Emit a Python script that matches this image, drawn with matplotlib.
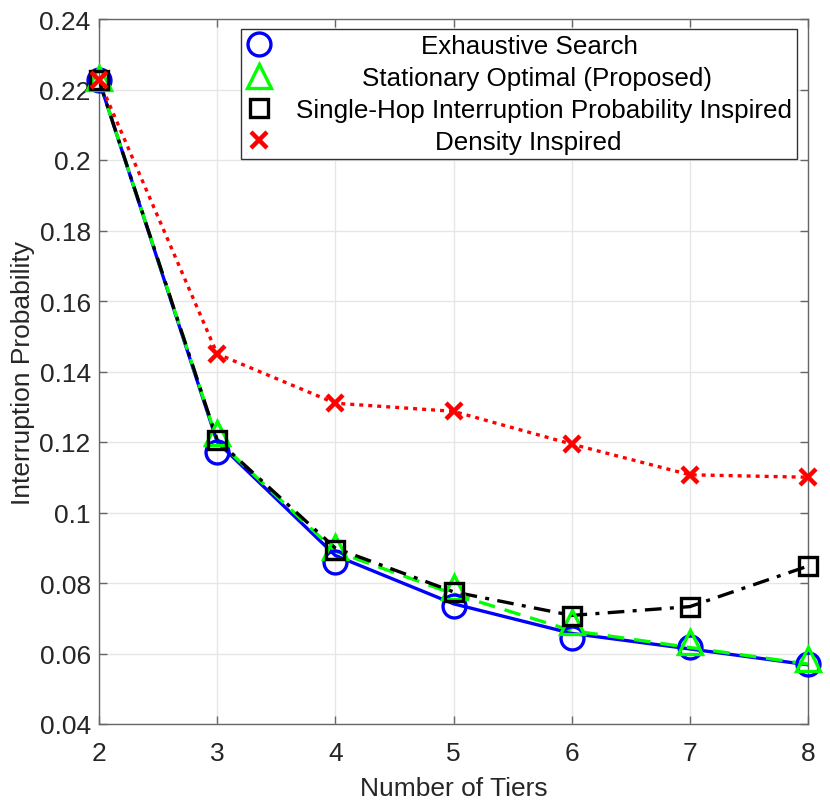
import matplotlib
matplotlib.use("Agg")
import matplotlib.pyplot as plt
from matplotlib.ticker import FuncFormatter

plt.rcParams['font.family'] = ['Liberation Sans', 'DejaVu Sans']

tiers = [2, 3, 4, 5, 6, 7, 8]

# curve values (lines)
exh_line = [0.2226, 0.1200, 0.0878, 0.0741, 0.0657, 0.0613, 0.0568]
stat_line = [0.2226, 0.1205, 0.0890, 0.0769, 0.0665, 0.0617, 0.0570]
single_line = [0.2226, 0.1206, 0.0899, 0.0775, 0.0708, 0.0733, 0.0848]
dens_line = [0.2226, 0.1450, 0.1310, 0.1287, 0.1194, 0.1107, 0.1100]

# marker values
exh_mk = [0.2226, 0.1171, 0.0859, 0.0736, 0.0643, 0.0618, 0.0570]
stat_mk = [0.2233, 0.1225, 0.0903, 0.0788, 0.0690, 0.0632, 0.0585]
single_mk = [0.2226, 0.1206, 0.0894, 0.0774, 0.0705, 0.0731, 0.0848]
dens_mk = [0.2226, 0.1450, 0.1310, 0.1287, 0.1194, 0.1107, 0.1100]

labels = ["Exhaustive Search", "Stationary Optimal (Proposed)",
          "Single-Hop Interruption Probability Inspired", "Density Inspired"]
yticks = [0.04, 0.06, 0.08, 0.10, 0.12, 0.14, 0.16, 0.18, 0.20, 0.22, 0.24]

fig = plt.figure(figsize=(8.30, 8.12), dpi=100)
ax = fig.add_axes([99/830, 1 - 725/812, (808-99)/830, (725-20)/812])

lw = 2.4
ax.plot(tiers, exh_line, '-', color='#0000ff', lw=lw, zorder=3)
ax.plot(tiers, stat_line, '--', color='#00ff00', lw=lw, dashes=(5, 3), zorder=3)
ax.plot(tiers, single_line, '-.', color='black', lw=lw, dashes=(5, 2.5, 1.2, 2.5), zorder=3)
ax.plot(tiers, dens_line, ':', color='#ff0000', lw=lw, dashes=(1.2, 1.5), zorder=3)

mew = 2.4
ax.plot(tiers, exh_mk, 'o', ls='none', ms=16.5, mfc='none', mec='#0000ff', mew=mew,
        label=labels[0], zorder=4, clip_on=False)
ax.plot(tiers, stat_mk, '^', ls='none', ms=17.5, mfc='none', mec='#00ff00', mew=mew,
        label=labels[1], zorder=5, clip_on=False)
ax.plot(tiers, single_mk, 's', ls='none', ms=13.5, mfc='none', mec='black', mew=mew,
        label=labels[2], zorder=6, clip_on=False)
ax.plot(tiers, dens_mk, 'x', ls='none', ms=12, mec='#ff0000', mew=3.2,
        label=labels[3], zorder=7, clip_on=False)

ax.set_xlim(2, 8)
ax.set_ylim(0.04, 0.24)
ax.set_xticks(tiers)
ax.set_yticks(yticks)
ax.yaxis.set_major_formatter(FuncFormatter(lambda v, p: ('%g' % round(v, 4))))
ax.grid(True, color='#e6e6e6', lw=1.0, zorder=0)
ax.set_axisbelow(True)

for s in ax.spines.values():
    s.set_color('#666666')
    s.set_linewidth(1.0)
ax.tick_params(direction='in', length=6, width=1.0, color='#666666',
               top=True, right=True, labelsize=19, labelcolor='#262626')
ax.tick_params(axis='x', pad=12)
ax.tick_params(axis='y', pad=6)

ax.set_xlabel("Number of Tiers", fontsize=19, color='#262626', labelpad=8)
ax.set_ylabel("Interruption Probability", fontsize=19, color='#262626', labelpad=3)

leg = ax.legend(loc='upper right', bbox_to_anchor=((797-99)/709, (725-29.5)/705),
                fontsize=18.7, frameon=True, fancybox=False, framealpha=1,
                edgecolor='#333333', borderpad=0.2, labelspacing=0.31,
                handlelength=0.98, handletextpad=0.92, borderaxespad=0)
leg.get_frame().set_linewidth(1.0)

fig.canvas.draw()
renderer = fig.canvas.get_renderer()
texts = leg.get_texts()
widths = [t.get_window_extent(renderer).width for t in texts]
wmax = max(widths)
for t, w in zip(texts, widths):
    t.set_position((0.45 * (wmax - w), 0))

fig.savefig("out.png", dpi=100)
